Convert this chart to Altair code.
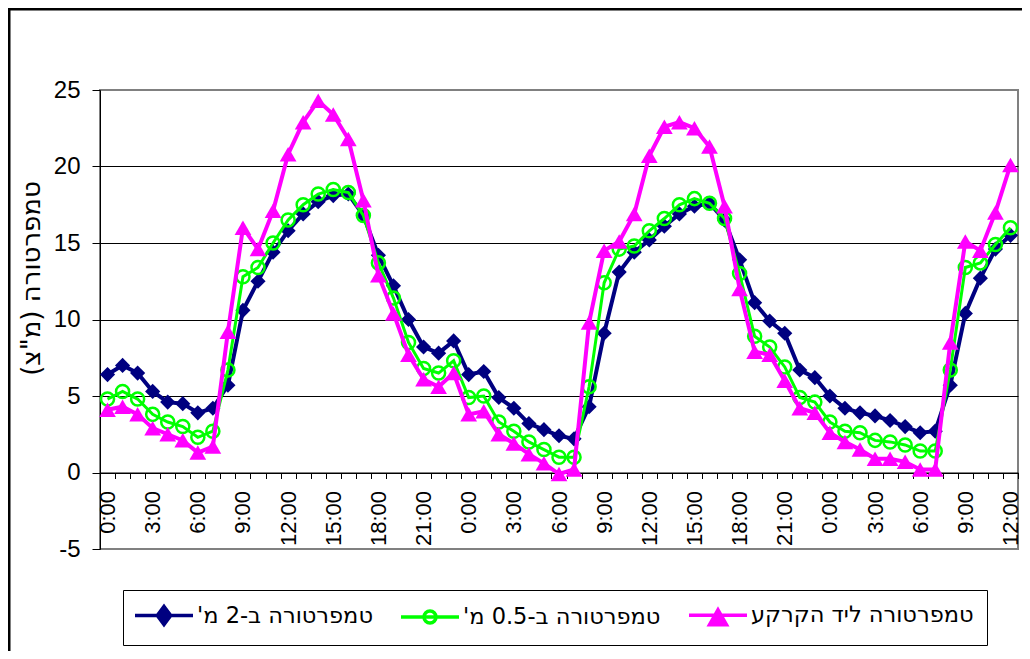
import json
import altair as alt
import pandas as pd

# ---------------- data ----------------
hours = list(range(61))  # hourly readings, 0:00 day 1 .. 12:00 day 3
tick_labels = ["0:00", "3:00", "6:00", "9:00", "12:00", "15:00", "18:00", "21:00",
               "0:00", "3:00", "6:00", "9:00", "12:00", "15:00", "18:00", "21:00",
               "0:00", "3:00", "6:00", "9:00", "12:00"]

t_2m = [6.4, 7.0, 6.5, 5.3, 4.6, 4.5, 3.9, 4.2, 5.7, 10.6, 12.5, 14.4, 15.8, 16.9, 17.7, 18.1,
        18.2, 16.8, 14.2, 12.2, 10.0, 8.2, 7.8, 8.6, 6.4, 6.6, 4.9, 4.2, 3.2, 2.8, 2.4, 2.2,
        4.3, 9.1, 13.1, 14.4, 15.2, 16.1, 16.9, 17.4, 17.6, 16.5, 13.9, 11.1, 9.9, 9.1, 6.7,
        6.2, 5.0, 4.2, 3.9, 3.7, 3.4, 3.0, 2.6, 2.7, 5.7, 10.4, 12.7, 14.6, 15.5]
t_05m = [4.8, 5.3, 4.8, 3.8, 3.3, 3.0, 2.3, 2.7, 6.7, 12.8, 13.4, 15.0, 16.5, 17.5, 18.2, 18.5,
         18.3, 16.8, 13.7, 11.4, 8.5, 6.8, 6.5, 7.3, 4.9, 5.0, 3.3, 2.7, 2.0, 1.5, 1.0, 1.0,
         5.6, 12.4, 14.6, 14.8, 15.8, 16.6, 17.5, 17.9, 17.6, 16.6, 13.0, 8.9, 8.2, 6.9, 4.9,
         4.6, 3.3, 2.7, 2.6, 2.1, 2.0, 1.8, 1.4, 1.4, 6.7, 13.4, 13.7, 14.9, 16.0]
t_ground = [4.1, 4.3, 3.8, 2.9, 2.5, 2.1, 1.3, 1.7, 9.2, 16.0, 14.6, 17.1, 20.8, 22.9, 24.3, 23.4,
            21.8, 17.8, 12.9, 10.4, 7.7, 6.1, 5.6, 6.5, 3.8, 4.0, 2.5, 1.9, 1.2, 0.6, -0.1, 0.2,
            9.8, 14.5, 15.1, 16.9, 20.7, 22.6, 22.9, 22.5, 21.3, 17.4, 12.0, 7.9, 7.7, 6.0, 4.2,
            3.9, 2.6, 2.0, 1.5, 0.9, 0.9, 0.7, 0.2, 0.2, 8.5, 15.1, 14.5, 17.0, 20.1]

series_keys = ["2m", "0.5m", "ground"]
RLM = "\u200f"
series_names = ["טמפרטורה ב-2 מ'" + RLM, "טמפרטורה ב-0.5 מ'" + RLM, "טמפרטורה ליד הקרקע"]
series_colors = ["#000080", "#00FF00", "#FF00FF"]
y_title = 'טמפרטורה (מ"צ)' + RLM
y_ticks = [-5, 0, 5, 10, 15, 20, 25]

rows = []
for key, vals in zip(series_keys, [t_2m, t_05m, t_ground]):
    for h, v in zip(hours, vals):
        rows.append({"h": h, "series": key, "value": v})
df = pd.DataFrame(rows)

FONT = "Liberation Sans, Arial, sans-serif"
HEB_FONT = "DejaVu Sans, sans-serif"
W, H = 918, 459
Y_MIN, Y_MAX = -5, 25

# ---------------- legend symbol shapes (line + marker), 10 px per unit ----------------
def circle_path(r):
    k = round(0.5523 * r, 4)
    return (f"M{r},0C{r},{k} {k},{r} 0,{r}C{-k},{r} {-r},{k} {-r},0"
            f"C{-r},{-k} {-k},{-r} 0,{-r}C{k},{-r} {r},{-k} {r},0Z")

shape_paths = {
    "2m": "M-2.9,0H2.9M0,-0.9L0.67,0L0,0.9L-0.67,0Z",
    "0.5m": "M-2.9,0H2.9" + circle_path(0.6),
    "ground": "M-2.9,0H2.9M0,-0.55L0.85,0.95L-0.85,0.95Z",
}
shape_expr = (f"datum.value === '2m' ? {json.dumps(shape_paths['2m'])} : "
              f"datum.value === '0.5m' ? {json.dumps(shape_paths['0.5m'])} : "
              f"{json.dumps(shape_paths['ground'])}")
fill_expr = ("datum.value === '2m' ? '#000080' : datum.value === '0.5m' ? 'transparent' : '#FF00FF'")
label_expr = (f"datum.value === '2m' ? {json.dumps(series_names[0], ensure_ascii=False)} : "
              f"datum.value === '0.5m' ? {json.dumps(series_names[1], ensure_ascii=False)} : "
              f"{json.dumps(series_names[2], ensure_ascii=False)}")

x_label_expr = f"datum.value % 3 === 0 ? {json.dumps(tick_labels)}[datum.value / 3] : ''"

x_enc = alt.X(
    "h:O",
    scale=alt.Scale(type="band", paddingInner=0, paddingOuter=0),
    axis=alt.Axis(
        title=None,
        offset=-(0 - Y_MIN) / (Y_MAX - Y_MIN) * H,
        labelAngle=270,
        labelAlign="right",
        labelBaseline="middle",
        labelExpr=x_label_expr,
        labelOverlap=False,
        labelFontSize=22,
        labelPadding=12,
        tickBand="extent",
        tickSize=6,
        tickColor="black",
        domainColor="black",
        domainWidth=1,
        grid=False,
    ),
)
y_enc = alt.Y(
    "value:Q",
    scale=alt.Scale(domain=[Y_MIN, Y_MAX], nice=False, zero=False),
    axis=alt.Axis(
        title=y_title,
        values=y_ticks,
        labelExpr="'' + datum.value",
        labelFontSize=24,
        labelPadding=12,
        tickSize=8,
        tickColor="black",
        domainColor="black",
        gridColor={"condition": {"test": "datum.value === 25 || datum.value === -5",
                                 "value": "#808080"}, "value": "black"},
        gridWidth=1,
        titleFont=HEB_FONT,
        titleFontSize=26,
        titleFontWeight="normal",
        titleAngle=270,
        titleX=-69,
        titleY=188,
        titleAlign="center",
        titleBaseline="middle",
    ),
)
color_enc = alt.Color(
    "series:N",
    scale=alt.Scale(domain=series_keys, range=series_colors),
    legend=alt.Legend(
        title=None,
        orient="none",
        legendX=23,
        legendY=500,
        direction="horizontal",
        labelExpr=label_expr,
        labelFontSize=22.5,
        labelFont=HEB_FONT,
        labelLimit=1000,
        labelOffset=21,
        columnPadding=21,
        symbolSize=400,
        symbolOffset=16,
        symbolStrokeWidth=3.5,
        symbolType={"expr": shape_expr},
        symbolFillColor={"expr": fill_expr},
        strokeColor="black",
        fillColor="white",
        padding=13,
    ),
)

marker_specs = {
    "2m": dict(shape="diamond", filled=True, size=230, color="#000080", strokeWidth=1),
    "0.5m": dict(shape="circle", filled=False, size=170, color="#00FF00", strokeWidth=2.5),
    "ground": dict(shape="triangle-up", filled=True, size=280, color="#FF00FF", strokeWidth=1),
}
line_widths = {"2m": 4, "0.5m": 3, "ground": 4}

base = alt.Chart(df)
layers = []
for key in series_keys:
    sub = base.transform_filter(alt.datum.series == key)
    layers.append(sub.mark_line(strokeWidth=line_widths[key]).encode(x=x_enc, y=y_enc, color=color_enc))
    layers.append(sub.mark_point(opacity=1, **marker_specs[key]).encode(x=x_enc, y=y_enc))

frame = alt.Chart(alt.Data(values=[{}])).mark_rect(
    fillOpacity=0, stroke="black", strokeWidth=3
).encode(x=alt.value(-91), x2=alt.value(1100), y=alt.value(-81), y2=alt.value(800))

chart = alt.layer(frame, *layers).properties(
    width=W, height=H,
    autosize=alt.AutoSizeParams(type="none"),
    padding={"left": 92, "top": 82, "right": 4, "bottom": 102},
    background="white",
).configure_view(
    stroke="#808080", strokeWidth=2
).configure_axis(
    labelFont=FONT, titleFont=FONT, labelColor="black", titleColor="black"
)

chart.save("out.html", embed_options={"renderer": "svg", "actions": False})
